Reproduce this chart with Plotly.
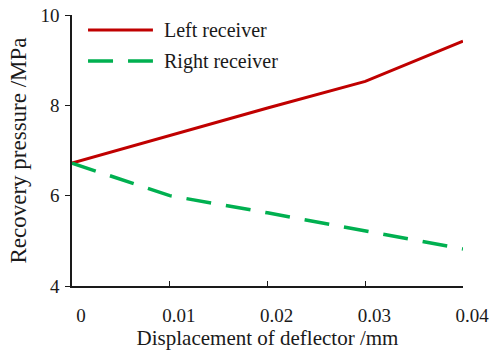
import plotly.graph_objects as go

x_mm = [0, 0.01, 0.02, 0.03, 0.04]
left_receiver = [6.72, 7.33, 7.94, 8.53, 9.42]
right_receiver = [6.72, 6.0, 5.62, 5.22, 4.82]
x_ticks = [0, 0.01, 0.02, 0.03, 0.04]
x_tick_labels = ["0", "0.01", "0.02", "0.03", "0.04"]
y_ticks = [4, 6, 8, 10]
series_names = ["Left receiver", "Right receiver"]
series_colors = ["#C00000", "#00B050"]

font_family = "Liberation Serif, Times New Roman, serif"
ink = "#1a1a1a"

fig = go.Figure()
fig.add_trace(go.Scatter(x=x_mm, y=left_receiver, mode="lines", name=series_names[0],
                         line=dict(color=series_colors[0], width=3)))
fig.add_trace(go.Scatter(x=x_mm, y=right_receiver, mode="lines", name=series_names[1],
                         line=dict(color=series_colors[1], width=3.5, dash="25px,15px")))

# custom legend (swatches + labels) placed in the upper-left of the plot area
legend_rows_y = [0.945, 0.83]
legend_dash = ["solid", "25px,15px"]
legend_width = [3, 3.5]
for name, color, yy, dash, w in zip(series_names, series_colors, legend_rows_y, legend_dash, legend_width):
    fig.add_shape(type="line", xref="x domain", yref="y domain",
                  x0=0.041, x1=0.207, y0=yy, y1=yy,
                  line=dict(color=color, width=w, dash=dash))
    fig.add_annotation(xref="x domain", yref="y domain", x=0.23, y=yy,
                       xanchor="left", yanchor="middle", showarrow=False, text=name,
                       font=dict(size=20, family=font_family, color=ink))

fig.update_layout(
    width=491, height=350,
    margin=dict(l=72, r=28, t=15, b=64),
    paper_bgcolor="white", plot_bgcolor="white",
    font=dict(family=font_family, size=20, color=ink),
    showlegend=False,
    xaxis=dict(range=[0, 0.04], tickvals=x_ticks, ticktext=x_tick_labels, automargin=False,
               showgrid=False, zeroline=False, showline=True, linecolor=ink, linewidth=1.5,
               ticks="inside", ticklen=5, tickcolor=ink, ticklabelshift=9, ticklabelstandoff=11,
               tickfont=dict(size=19, family=font_family, color=ink),
               title=dict(text="Displacement of deflector /mm", font=dict(size=21, family=font_family, color=ink), standoff=4)),
    yaxis=dict(range=[4, 10], tickvals=y_ticks, automargin=False,
               showgrid=False, zeroline=False, showline=True, linecolor=ink, linewidth=1.5,
               ticks="outside", ticklen=5, tickcolor=ink, ticklabelstandoff=2,
               tickfont=dict(size=19, family=font_family, color=ink),
               title=dict(text="Recovery pressure /MPa", font=dict(size=23, family=font_family, color=ink), standoff=7)),
)

fig.write_html("out.html", config={"displayModeBar": False},
               post_script="document.body.style.margin='0';")
